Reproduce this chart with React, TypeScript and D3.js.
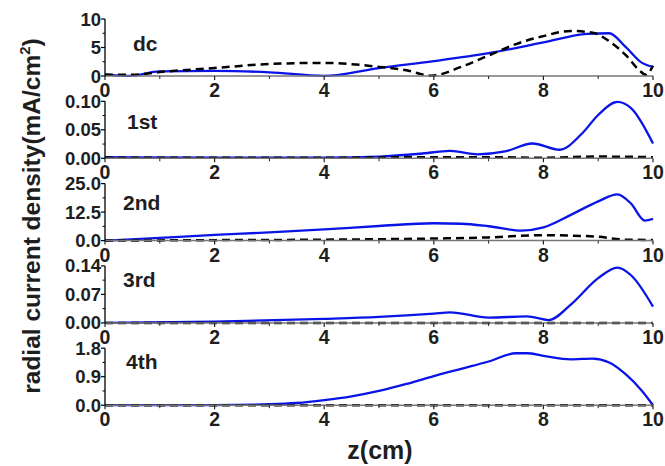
import React from 'react';
import * as d3 from 'd3';

type Pt = [number, number];

const panelNames = ['dc', '1st', '2nd', '3rd', '4th'];
const yMaxes = [10, 0.1, 25, 0.14, 1.8];
const yTickFormats = ['.0f', '.2f', '.1f', '.2f', '.1f'];
const xTicks = [0, 2, 4, 6, 8, 10];

// solid (blue) curves
const dcSolid: Pt[] = [[0, 0.3], [0.45, 0.02], [1, 0.8], [2, 0.9], [3, 0.65], [4, 0.02], [5, 1.4], [6, 2.6], [7, 4.0], [8, 5.9], [8.8, 7.4], [9.2, 7.5], [9.5, 5.1], [9.8, 2.3], [10, 1.6]];
const firstSolid: Pt[] = [[0, 0.002], [2, 0.001], [4, 0.001], [5, 0.003], [5.75, 0.008], [6.3, 0.013], [6.8, 0.007], [7.3, 0.012], [7.8, 0.026], [8.3, 0.015], [8.7, 0.043], [9.0, 0.076], [9.35, 0.099], [9.6, 0.088], [10, 0.026]];
const secondSolid: Pt[] = [[0, 0], [1, 1.2], [2, 2.5], [3, 3.6], [4, 4.9], [5, 6.4], [6, 7.6], [6.5, 7.4], [7, 6.3], [7.6, 4.4], [8, 5.8], [8.5, 11.3], [9, 17.2], [9.35, 20.3], [9.6, 16.2], [9.85, 8.8], [10, 9.5]];
const thirdSolid: Pt[] = [[0, 0], [2, 0.003], [4, 0.01], [5, 0.015], [6, 0.023], [6.3, 0.026], [7, 0.013], [7.7, 0.016], [8.1, 0.007], [8.5, 0.045], [9, 0.11], [9.35, 0.136], [9.6, 0.117], [10, 0.04]];
const fourthSolid: Pt[] = [[0, 0], [2, 0.005], [3, 0.03], [3.5, 0.07], [4, 0.16], [4.5, 0.28], [5, 0.45], [5.5, 0.67], [6, 0.92], [6.5, 1.15], [7, 1.38], [7.5, 1.64], [7.7, 1.64], [8, 1.56], [8.5, 1.45], [8.9, 1.47], [9.2, 1.35], [9.5, 0.98], [9.8, 0.45], [10, 0]];

// dashed (black) curves
const dcDash: Pt[] = [[0, 0.2], [0.5, 0.2], [1, 0.7], [2, 1.4], [3, 2.1], [4, 2.3], [5, 1.6], [5.5, 1.0], [5.95, 0.05], [6.5, 1.6], [7, 3.6], [7.5, 5.6], [8, 7.0], [8.5, 7.9], [8.9, 7.6], [9.2, 6.1], [9.5, 3.7], [9.75, 1.0], [9.87, 0.2], [10, 1.8]];
const firstDash: Pt[] = [[0, 0.001], [4, 0.001], [6, 0.002], [7, 0.002], [8, 0.001], [9, 0.003], [10, 0.002]];
const secondDash: Pt[] = [[0, 0], [2, 0.2], [4, 0.4], [5, 0.6], [6, 0.9], [7, 1.4], [8, 2.4], [8.5, 2.2], [9, 1.7], [9.5, 0.4], [10, 0.3]];
const thirdDash: Pt[] = [[0, 0], [5, 0], [10, 0]];
const fourthDash: Pt[] = [[0, 0], [5, 0], [10, 0]];

const solids = [dcSolid, firstSolid, secondSolid, thirdSolid, fourthSolid];
const dashes = [dcDash, firstDash, secondDash, thirdDash, fourthDash];
const labelPos: Pt[] = [[133, 51], [127, 129], [123, 210], [123, 287], [126, 369]];

const W = 665;
const H = 466;
const left = 105;
const right = 653;
const top0 = 19;
const step = 82.3;
const ph = 57;
const font = "'Liberation Sans', Arial, sans-serif";
const ink = '#1e1e1e';

const x = d3.scaleLinear().domain([0, 10]).range([left, right]);

const Panel: React.FC<{ i: number }> = ({ i }) => {
  const top = top0 + i * step;
  const bottom = top + ph;
  const yMax = yMaxes[i];
  const y = d3.scaleLinear().domain([0, yMax]).range([bottom, top]);
  const line = d3.line<Pt>().x(d => x(d[0])).y(d => y(d[1])).curve(d3.curveMonotoneX);
  const yMajor = [0, yMax / 2, yMax];
  const yMinor = [yMax / 4, (3 * yMax) / 4];
  const fmt = d3.format(yTickFormats[i]);
  const xMinor = d3.range(1, 10, 2);
  return (
    <g>
      <path d={line(solids[i]) || ''} fill="none" stroke="#0a14e6" strokeWidth={2.3} />
      <path d={line(dashes[i]) || ''} fill="none" stroke="#000" strokeWidth={2.5} strokeDasharray="8,5" />
      {/* x axis */}
      <line x1={left} x2={right} y1={bottom} y2={bottom} stroke="#777" strokeWidth={1.5} />
      {xTicks.map(t => (
        <g key={'xt' + t}>
          <line x1={x(t)} x2={x(t)} y1={bottom} y2={bottom + 4} stroke="#222" strokeWidth={1.2} />
          <text x={x(t)} y={bottom + 21} textAnchor="middle" fontFamily={font} fontWeight="bold" fontSize={19.5} fill={ink}>{t}</text>
        </g>
      ))}
      {xMinor.map(t => (
        <line key={'xm' + t} x1={x(t)} x2={x(t)} y1={bottom} y2={bottom + 3} stroke="#222" strokeWidth={1} />
      ))}
      {/* y axis */}
      <line x1={left} x2={left} y1={top} y2={bottom} stroke="#000" strokeWidth={1.3} />
      {yMajor.map(t => (
        <g key={'yt' + t}>
          <line x1={left - 4} x2={left} y1={y(t)} y2={y(t)} stroke="#000" strokeWidth={1.2} />
          <text x={left - 4} y={y(t) + 6.5} textAnchor="end" fontFamily={font} fontWeight="bold" fontSize={18.5} fill={ink}>{fmt(t)}</text>
        </g>
      ))}
      {yMinor.map(t => (
        <line key={'ym' + t} x1={left - 2.5} x2={left} y1={y(t)} y2={y(t)} stroke="#000" strokeWidth={1} />
      ))}
      <text x={labelPos[i][0]} y={labelPos[i][1]} fontFamily={font} fontWeight="bold" fontSize={21} fill={ink}>{panelNames[i]}</text>
    </g>
  );
};

export default function App() {
  return (
    <svg width={W} height={H} style={{ position: 'absolute', left: 0, top: 0, background: '#fff' }}>
      {panelNames.map((_, i) => <Panel key={i} i={i} />)}
      <text transform="translate(40,216) rotate(-90)" textAnchor="middle" fontFamily={font} fontWeight="bold" fontSize={24.5} fill={ink}>
        radial current density(mA/cm<tspan dy={-10} fontSize={15}>2</tspan><tspan dy={10}>)</tspan>
      </text>
      <text x={380} y={459} textAnchor="middle" fontFamily={font} fontWeight="bold" fontSize={25} fill={ink}>z(cm)</text>
    </svg>
  );
}
